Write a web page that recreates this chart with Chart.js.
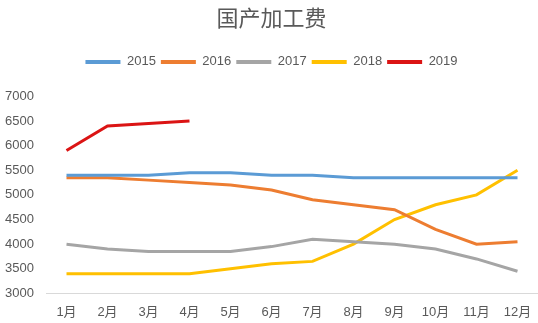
<!DOCTYPE html>
<html><head><meta charset="utf-8">
<script src="https://cdn.jsdelivr.net/npm/chart.js@4"></script>
<style>html,body{margin:0;padding:0;background:#fff}#wrap{width:538px;height:323px}</style>
</head><body><div id="wrap"><canvas id="c" width="538" height="323"></canvas></div>
<script>
const categories = ['1月','2月','3月','4月','5月','6月','7月','8月','9月','10月','11月','12月'];
const seriesNames = ['2015','2016','2017','2018','2019'];
const s2015 = [5400,5400,5400,5450,5450,5400,5400,5350,5350,5350,5350,5350];
const s2016 = [5350,5350,5300,5250,5200,5100,4900,4800,4700,4300,4000,4050];
const s2017 = [4000,3900,3850,3850,3850,3950,4100,4050,4000,3900,3700,3450];
const s2018 = [3400,3400,3400,3400,3500,3600,3650,4000,4500,4800,5000,5500];
const s2019 = [5900,6400,6450,6500];
const yTicks = [3000,3500,4000,4500,5000,5500,6000,6500,7000];
const colors = ['#5B9BD5','#ED7D31','#A5A5A5','#FFC000','#DB1414'];
const allSeries = [s2015,s2016,s2017,s2018,s2019];
const font = '"Liberation Sans","Noto Sans CJK SC",sans-serif';
const legendGap = {
  id: 'legendGap',
  beforeInit(chart){
    const fit = chart.legend.fit;
    chart.legend.fit = function(){ fit.bind(chart.legend)(); this.height += 18; };
  }
};
new Chart(document.getElementById('c'), {
  type: 'line',
  plugins: [legendGap],
  data: {
    labels: categories,
    datasets: allSeries.map((d,i)=>({
      label: seriesNames[i], data: d, borderColor: colors[i], backgroundColor: colors[i],
      borderWidth: 3, pointRadius: 0, tension: 0, fill: false
    }))
  },
  options: {
    responsive: false, animation: false,
    layout: {padding: {left: 5, right: 0, top: 0, bottom: 0}},
    plugins: {
      title: {display: true, text: '国产加工费', color: '#595959',
        font: {family: font, size: 22, weight: 'normal'}, padding: {top: 7, bottom: 17}},
      legend: {position: 'top', labels: {boxWidth: 35, boxHeight: 4, padding: 5, color: '#595959',
        font: {family: font, size: 13},
        generateLabels(chart){
          const items = Chart.defaults.plugins.legend.labels.generateLabels(chart);
          items.forEach(it=>{it.lineWidth = 0;});
          return items;
        }}},
      tooltip: {enabled: false}
    },
    scales: {
      x: {offset: true, grid: {display: false}, border: {display: true, color: '#D9D9D9'},
        ticks: {color: '#595959', font: {family: font, size: 13}, maxRotation: 0}},
      y: {min: 3000, max: 7000, afterBuildTicks(ax){ax.ticks = yTicks.map(v=>({value:v}));},
        afterFit(ax){ax.width = 41;},
        grid: {display: false}, border: {display: false},
        ticks: {color: '#595959', font: {family: font, size: 13}, crossAlign: 'far', padding: 8,
          callback: v => String(v)}}
    }
  }
});
</script></body></html>
